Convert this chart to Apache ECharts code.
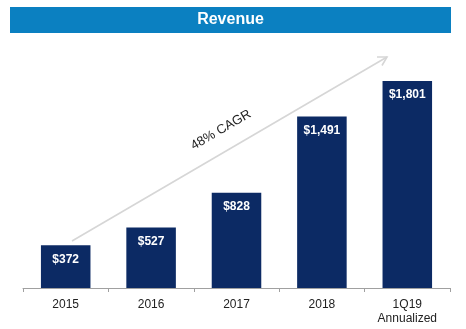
<!DOCTYPE html>
<html>
<head>
<meta charset="utf-8">
<script src="https://cdn.jsdelivr.net/npm/echarts@6/dist/echarts.min.js"></script>
<style>html,body{margin:0;padding:0;background:#fff;}#c{width:466px;height:329px;}</style>
</head>
<body>
<div id="c"></div>
<script>
var categories = ['2015', '2016', '2017', '2018', '1Q19\nAnnualized'];
var revenue = [372, 527, 828, 1491, 1801];
var valueLabels = ['$372', '$527', '$828', '$1,491', '$1,801'];
var titleText = 'Revenue';
var cagrText = '48% CAGR';

var chart = echarts.init(document.getElementById('c'), null, {renderer: 'canvas'});
var ang = Math.atan2(241 - 57, 387 - 72);
chart.setOption({
  animation: false,
  textStyle: {fontFamily: 'Liberation Sans, Arial, sans-serif'},
  grid: {left: 23, right: 16, top: 58, bottom: 41},
  xAxis: {
    type: 'category',
    data: categories,
    axisLine: {lineStyle: {color: '#a0a0a0', width: 1}},
    axisTick: {show: true, length: 4, lineStyle: {color: '#a0a0a0'}},
    axisLabel: {color: '#222', fontSize: 12, margin: 10, lineHeight: 14, interval: 0}
  },
  yAxis: {type: 'value', min: 0, max: 2000, show: false, splitLine: {show: false}},
  series: [{
    type: 'bar',
    data: revenue,
    barWidth: '58%',
    itemStyle: {color: '#0c2a64'},
    label: {
      show: true, position: 'insideTop', distance: 8,
      color: '#fff', fontWeight: 'bold', fontSize: 12,
      formatter: function (p) { return valueLabels[p.dataIndex]; }
    }
  }],
  graphic: [
    {type: 'rect', shape: {x: 10, y: 7, width: 441, height: 26}, style: {fill: '#0b80c1'}},
    {type: 'text', x: 230.5, y: 20, style: {text: titleText, fill: '#fff', font: 'bold 16px Liberation Sans, Arial, sans-serif', align: 'center', verticalAlign: 'middle'}},
    {type: 'line', shape: {x1: 72, y1: 241, x2: 387, y2: 57}, style: {stroke: '#d6d6d6', lineWidth: 1.6}},
    {type: 'polyline', shape: {points: [[377, 57], [387, 57], [382, 65.5]]}, style: {stroke: '#d6d6d6', lineWidth: 1.6, fill: null}},
    {type: 'text', x: 221, y: 130, rotation: ang, style: {text: cagrText, fill: '#222', font: '13px Liberation Sans, Arial, sans-serif', align: 'center', verticalAlign: 'middle'}}
  ]
});
</script>
</body>
</html>
